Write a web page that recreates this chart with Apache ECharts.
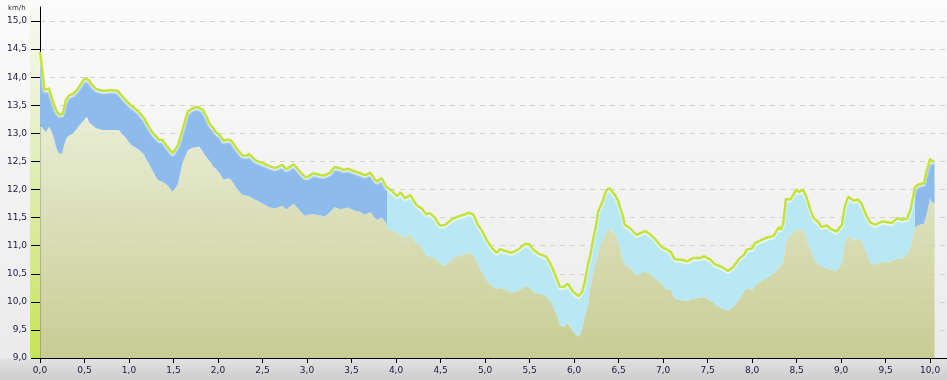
<!DOCTYPE html>
<html><head><meta charset="utf-8">
<script src="https://cdn.jsdelivr.net/npm/echarts@6/dist/echarts.min.js"></script>
<style>
html,body{margin:0;padding:0;}
#c{width:947px;height:380px;background:linear-gradient(to bottom,#fbfbfb 0%,#ebebeb 94.2%,#e2e2e2 94.4%,#cdcdcd 100%);}
</style>
</head><body><div id="c"></div>
<script>
// distance in km
const distance = [0.00,0.03,0.05,0.07,0.10,0.135,0.16,0.18,0.21,0.25,0.27,0.29,0.31,0.33,0.37,0.42,0.44,0.48,0.51,0.53,0.55,0.57,0.63,0.65,0.70,0.74,0.78,0.87,0.89,0.93,0.95,1.02,1.10,1.12,1.17,1.19,1.21,1.27,1.32,1.34,1.38,1.43,1.49,1.55,1.60,1.66,1.72,1.77,1.79,1.83,1.87,1.91,1.95,1.97,2.02,2.06,2.12,2.15,2.21,2.27,2.32,2.35,2.42,2.49,2.57,2.64,2.72,2.77,2.85,2.92,2.98,3.01,3.07,3.15,3.20,3.26,3.31,3.37,3.41,3.46,3.54,3.60,3.65,3.71,3.78,3.84,3.89,3.90,3.95,3.98,4.01,4.05,4.10,4.16,4.23,4.29,4.34,4.38,4.44,4.49,4.55,4.63,4.70,4.78,4.82,4.87,4.92,4.96,5.02,5.08,5.13,5.17,5.22,5.30,5.37,5.45,5.50,5.54,5.60,5.69,5.75,5.81,5.84,5.88,5.93,5.95,5.99,6.05,6.09,6.12,6.16,6.18,6.22,6.24,6.27,6.29,6.32,6.35,6.37,6.40,6.42,6.46,6.50,6.52,6.54,6.57,6.63,6.70,6.72,6.80,6.85,6.92,6.98,7.03,7.09,7.13,7.21,7.27,7.34,7.42,7.46,7.53,7.58,7.66,7.73,7.79,7.85,7.91,7.94,8.00,8.03,8.09,8.18,8.24,8.27,8.30,8.32,8.35,8.38,8.43,8.46,8.50,8.53,8.57,8.61,8.65,8.69,8.74,8.78,8.84,8.89,8.95,9.01,9.04,9.08,9.14,9.19,9.23,9.28,9.33,9.38,9.46,9.51,9.57,9.63,9.68,9.74,9.78,9.83,9.87,9.93,9.96,10.00,10.02,10.05];
// upper speed (green line), km/h
const maxSpeed = [14.45,14.07,13.77,13.74,13.80,13.62,13.50,13.42,13.34,13.34,13.45,13.59,13.64,13.68,13.70,13.78,13.83,13.93,13.98,14.01,13.95,13.89,13.79,13.78,13.76,13.76,13.77,13.76,13.73,13.65,13.62,13.50,13.40,13.39,13.27,13.21,13.15,13.00,12.92,12.88,12.88,12.76,12.64,12.79,13.06,13.39,13.45,13.47,13.46,13.42,13.30,13.16,13.09,13.03,12.97,12.87,12.89,12.87,12.73,12.61,12.60,12.63,12.52,12.48,12.42,12.38,12.44,12.36,12.45,12.32,12.22,12.23,12.29,12.26,12.25,12.30,12.40,12.38,12.35,12.37,12.32,12.29,12.25,12.30,12.14,12.20,12.05,12.04,11.98,11.93,11.88,11.95,11.84,11.90,11.72,11.66,11.56,11.58,11.49,11.36,11.37,11.47,11.52,11.56,11.59,11.55,11.37,11.28,11.10,10.95,10.87,10.94,10.91,10.87,10.93,11.03,11.02,10.93,10.86,10.80,10.63,10.39,10.27,10.26,10.32,10.34,10.18,10.10,10.18,10.35,10.70,10.80,11.16,11.30,11.60,11.68,11.78,11.93,12.00,12.02,12.00,11.90,11.78,11.66,11.58,11.37,11.31,11.19,11.19,11.26,11.21,11.10,10.98,10.94,10.88,10.76,10.75,10.72,10.78,10.78,10.81,10.75,10.67,10.62,10.55,10.62,10.76,10.84,10.93,10.95,11.04,11.09,11.15,11.17,11.25,11.33,11.28,11.40,11.83,11.82,11.90,12.00,11.95,12.00,11.87,11.66,11.49,11.43,11.33,11.36,11.29,11.25,11.37,11.69,11.87,11.80,11.82,11.75,11.55,11.41,11.37,11.43,11.42,11.40,11.49,11.46,11.48,11.64,12.04,12.09,12.11,12.32,12.55,12.50,12.51];
// lower speed (top of olive area), km/h
const minSpeed = [13.15,13.09,13.05,13.03,13.12,13.02,12.90,12.76,12.64,12.64,12.79,12.88,12.94,12.96,13.00,13.09,13.14,13.21,13.27,13.29,13.20,13.17,13.09,13.08,13.06,13.06,13.06,13.06,13.05,12.97,12.95,12.80,12.72,12.70,12.62,12.55,12.50,12.32,12.18,12.16,12.14,12.08,11.96,12.10,12.47,12.70,12.75,12.76,12.76,12.67,12.58,12.50,12.40,12.38,12.29,12.18,12.20,12.17,12.02,11.91,11.89,11.88,11.82,11.76,11.69,11.66,11.71,11.65,11.75,11.62,11.53,11.55,11.56,11.54,11.52,11.60,11.69,11.65,11.66,11.68,11.62,11.60,11.55,11.60,11.46,11.50,11.40,11.31,11.28,11.25,11.22,11.20,11.13,11.20,11.04,10.97,10.83,10.81,10.77,10.70,10.64,10.76,10.82,10.86,10.87,10.83,10.68,10.55,10.38,10.28,10.23,10.25,10.22,10.16,10.20,10.27,10.26,10.18,10.15,10.10,9.97,9.75,9.59,9.55,9.62,9.60,9.47,9.38,9.50,9.74,9.97,10.24,10.55,10.69,10.85,10.96,11.10,11.20,11.28,11.29,11.28,11.22,11.04,10.93,10.80,10.66,10.61,10.47,10.48,10.54,10.50,10.40,10.33,10.22,10.21,10.06,10.03,10.01,10.06,10.07,10.08,10.03,9.96,9.88,9.84,9.91,10.03,10.18,10.24,10.21,10.28,10.36,10.44,10.50,10.55,10.60,10.65,10.70,11.09,11.18,11.24,11.29,11.28,11.29,11.15,10.95,10.80,10.66,10.63,10.60,10.57,10.54,10.70,11.04,11.18,11.10,11.12,11.08,10.90,10.69,10.66,10.72,10.70,10.72,10.78,10.76,10.84,10.98,11.33,11.37,11.39,11.55,11.84,11.78,11.75];
// distances where the band colour changes (dark blue / light blue / dark blue)
const bandBreaks = [3.895, 9.83];
const xTicks = [0,0.5,1,1.5,2,2.5,3,3.5,4,4.5,5,5.5,6,6.5,7,7.5,8,8.5,9,9.5,10];
const yTicks = [9,9.5,10,10.5,11,11.5,12,12.5,13,13.5,14,14.5,15];

const chart = echarts.init(document.getElementById('c'), null, {renderer:'canvas'});
const fmt = v => v.toFixed(1).replace('.', ',');
const x0 = distance[0], x1 = distance[distance.length-1];
const s1 = (bandBreaks[0]-x0)/(x1-x0), s2 = (bandBreaks[1]-x0)/(x1-x0);
const dark = '#8cbbec', light = '#b7e8f3';
const bandGrad = new echarts.graphic.LinearGradient(0,0,1,0,[
  {offset:0,color:dark},{offset:s1,color:dark},{offset:s1,color:light},
  {offset:s2,color:light},{offset:s2,color:dark},{offset:1,color:dark}]);
const oliveGrad = new echarts.graphic.LinearGradient(0,0,0,1,[
  {offset:0,color:'rgba(230,235,205,0.85)'},{offset:1,color:'rgba(193,199,133,0.85)'}]);

chart.setOption({
  animation:false,
  backgroundColor:'transparent',
  title:{text:'km/h',left:3,top:0,textStyle:{fontSize:7,fontWeight:'normal',color:'#333',fontFamily:'DejaVu Sans'}},
  graphic:[{type:'rect',left:30,top:7,shape:{width:10,height:351},silent:true,z:-1,
    style:{fill:new echarts.graphic.LinearGradient(0,0,0,1,[{offset:0,color:'rgba(215,235,140,0.08)'},{offset:1,color:'rgba(195,228,75,0.95)'}])}}],
  grid:{left:40,right:0,top:7,bottom:22,containLabel:false},
  xAxis:{type:'value',min:0,max:10.19,
    axisLine:{show:true,lineStyle:{color:'#000',width:1}},
    axisTick:{show:true,customValues:xTicks,length:5,lineStyle:{color:'#000'}},
    axisLabel:{customValues:xTicks,formatter:fmt,fontSize:9,color:'#1a1a3a',margin:8,fontFamily:'DejaVu Sans'},
    splitLine:{show:false}},
  yAxis:{type:'value',min:9,max:15.25,interval:0.5,
    axisLine:{show:true,lineStyle:{color:'#000',width:1}},
    axisTick:{show:true,customValues:yTicks,length:9,lineStyle:{color:'#000'}},
    axisLabel:{customValues:yTicks,formatter:fmt,fontSize:9,color:'#1a1a3a',margin:13,fontFamily:'DejaVu Sans'},
    splitLine:{show:true,lineStyle:{color:'#d2d2d2',type:[5,5],width:1}}},
  series:[
    {type:'line',name:'min',symbol:'none',silent:true,
     data:distance.map((d,i)=>[d,minSpeed[i]]),
     lineStyle:{width:0},areaStyle:{color:oliveGrad,opacity:1},z:2},
    {type:'custom',name:'band',coordinateSystem:'cartesian2d',silent:true,z:3,
     data:distance.map((d,i)=>[d,maxSpeed[i],minSpeed[i]]),
     encode:{x:0,y:[1,2]},
     renderItem:function(params, api){
       if (params.dataIndex !== 0) return null;
       const pts = [];
       for (let i=0;i<distance.length;i++) pts.push(api.coord([distance[i],maxSpeed[i]]));
       for (let i=distance.length-1;i>=0;i--) pts.push(api.coord([distance[i],minSpeed[i]]));
       return {type:'polygon',shape:{points:pts},style:{fill:bandGrad}};
     }},
    {type:'line',name:'max',symbol:'none',silent:true,z:4,
     data:distance.map((d,i)=>[d,maxSpeed[i]]),
     lineStyle:{color:'#c3e23a',width:2.5,shadowColor:'rgba(255,255,255,0.95)',shadowBlur:2,shadowOffsetY:1.5}}
  ]
});
</script></body></html>
